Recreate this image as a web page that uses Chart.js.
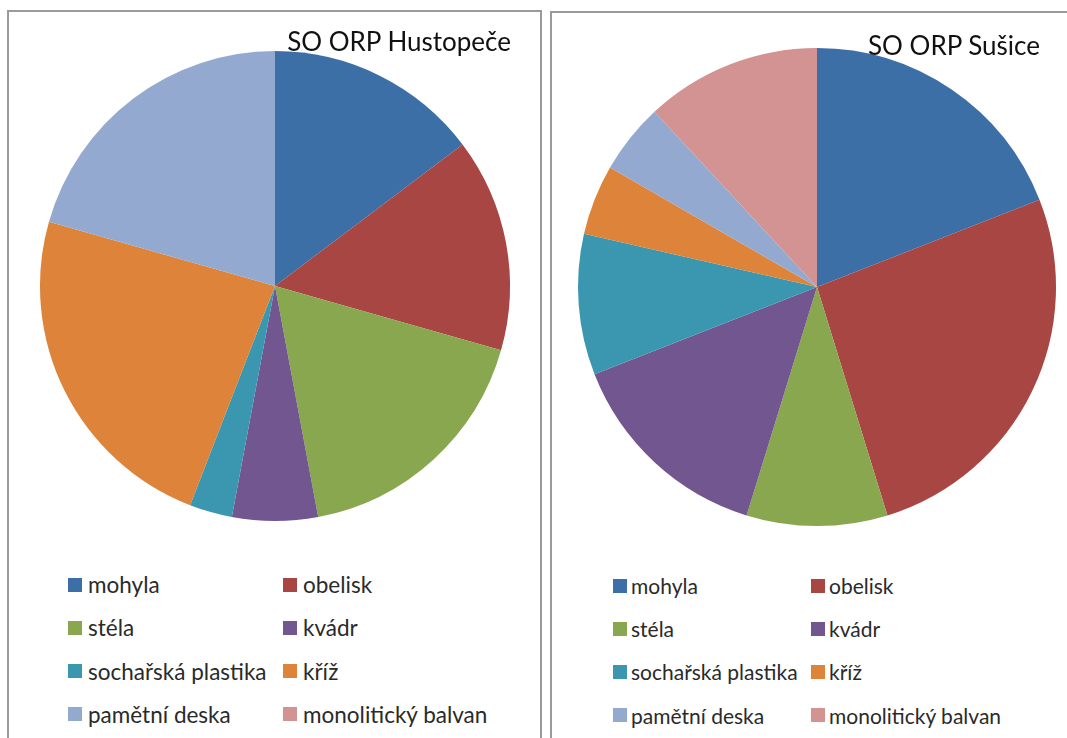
<!DOCTYPE html>
<html lang="cs">
<head>
<meta charset="utf-8">
<title>Typy památek – SO ORP Hustopeče a SO ORP Sušice</title>
<script src="https://cdn.jsdelivr.net/npm/chart.js@4.4.1/dist/chart.umd.min.js"></script>
<style>
  html, body { margin: 0; padding: 0; background: #fff; }
  body { width: 1067px; height: 738px; position: relative; overflow: hidden;
         font-family: Lato, "Open Sans", sans-serif; color: #1e1e1e; }
  .panel { position: absolute; border: 2px solid #9a9a9a; background: #fff; }
  #panelLeft { left: 7px; top: 10px; width: 531px; height: 780px; }
  #panelRight { left: 550px; top: 11px; width: 600px; height: 780px; }
  canvas { position: absolute; }
  .title { position: absolute; font-size: 26px; line-height: 26px; white-space: nowrap; color: #111; }
  .legend-item { position: absolute; height: 43px; display: flex; align-items: center; white-space: nowrap; color: #2a2a2a; }
  .legend-box { width: 14px; height: 14px; flex: none; }
</style>
</head>
<body>
<div class="panel" id="panelLeft"></div>
<div class="panel" id="panelRight"></div>

<canvas id="pieHustopece" width="500" height="500" style="left:25px; top:36px;"></canvas>
<canvas id="pieSusice" width="500" height="500" style="left:567px; top:37px;"></canvas>

<div class="title" id="titleHustopece" style="right:556px; top:28px;"></div>
<div class="title" id="titleSusice" style="right:27px; top:32px;"></div>

<div id="legendHustopece"></div>
<div id="legendSusice"></div>

<script>
// typy památek (kategorie)
const categories = ['mohyla', 'obelisk', 'stéla', 'kvádr', 'sochařská plastika', 'kříž', 'pamětní deska', 'monolitický balvan'];

// počty v jednotlivých SO ORP
const hustopeceValues = [5, 5, 6, 2, 1, 8, 7, 0];
const susiceValues = [8, 11, 4, 6, 4, 2, 2, 5];

const titles = ['SO ORP Hustopeče', 'SO ORP Sušice'];

// barvy výsečí (Office styl)
const sliceColors = ['#3c6fa6', '#a84643', '#88a74e', '#725690', '#3b97af', '#dd833a', '#94a9cf', '#d29392'];

// Vykreslení jednoho koláče
function drawPie(canvasId, values, radius) {
    const ctx = document.getElementById(canvasId).getContext('2d');
    return new Chart(ctx, {
        type: 'pie',
        data: {
            labels: categories,
            datasets: [{
                data: values,
                backgroundColor: sliceColors,
                borderWidth: 0,
                hoverOffset: 0
            }]
        },
        options: {
            responsive: false,
            animation: false,
            events: [],
            radius: radius,
            layout: { padding: 0 },
            plugins: {
                legend: { display: false },
                tooltip: { enabled: false }
            }
        }
    });
}

// Legenda ve dvou sloupcích pod koláčem
function buildLegend(containerId, colX, gap, firstRowTop, rowStep, fontSize) {
    const box = document.getElementById(containerId);
    box.innerHTML = '';
    categories.forEach((name, i) => {
        const item = document.createElement('div');
        item.className = 'legend-item';
        item.style.left = colX[i % 2] + 'px';
        item.style.top = (firstRowTop + Math.floor(i / 2) * rowStep) + 'px';
        item.style.fontSize = fontSize + 'px';
        item.innerHTML = `<span class="legend-box" style="background:${sliceColors[i]}; margin-right:${gap}px"></span><span>${name}</span>`;
        box.appendChild(item);
    });
}

document.getElementById('titleHustopece').textContent = titles[0];
document.getElementById('titleSusice').textContent = titles[1];

drawPie('pieHustopece', hustopeceValues, 235);
drawPie('pieSusice', susiceValues, 239);

buildLegend('legendHustopece', [68, 283], 6, 563, 43.3, 22.5);
buildLegend('legendSusice', [613, 811], 4, 564, 43.2, 21);
</script>
</body>
</html>
